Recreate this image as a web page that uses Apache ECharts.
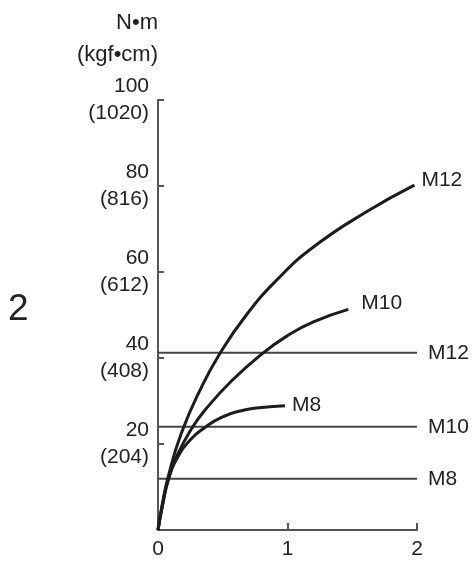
<!DOCTYPE html>
<html>
<head>
<meta charset="utf-8">
<script src="https://cdn.jsdelivr.net/npm/echarts@6/dist/echarts.min.js"></script>
<style>
  html, body { margin: 0; padding: 0; background: #fff; }
  #main { width: 474px; height: 565px; }
</style>
</head>
<body>
<div id="main"></div>
<script>
// tightening torque curves
var m12Curve = [[0, 0], [0.03, 5.5], [0.08, 12.5], [0.18, 22.5], [0.337, 33.3], [0.479, 41.1], [0.672, 49.6], [0.916, 58.1], [1.2, 65.8], [1.61, 74.0], [1.98, 80.2]]
var m10Curve = [[0, 0], [0.03, 5], [0.08, 11.8], [0.15, 17.5], [0.26, 23.6], [0.363, 27.9], [0.569, 34.7], [0.8, 40.9], [1.0, 45.2], [1.2, 48.4], [1.47, 51.3]]
var m8Curve = [[0, 0], [0.03, 5], [0.08, 11.8], [0.15, 16.8], [0.25, 21], [0.36, 23.8], [0.49, 26.2], [0.65, 27.8], [0.8, 28.5], [0.98, 28.9]]

// horizontal limit lines
var limitNames = ['M12', 'M10', 'M8']
var limitValues = [41.2, 24.0, 11.9]

var yTickLabels = { 20: '20\n(204)', 40: '40\n(408)', 60: '60\n(612)', 80: '80\n(816)', 100: '100\n(1020)' }
var xTickLabels = { 0: '0', 1: '1', 2: '2' }

var font = 'Liberation Sans, Arial, sans-serif'
var textColor = '#222'

var myChart = echarts.init(document.getElementById('main'))

var series = []
limitNames.forEach(function (name, i) {
  series.push({
    name: name + ' limit',
    type: 'line',
    symbol: 'none',
    silent: true,
    data: [[0, limitValues[i]], [2, limitValues[i]]],
    lineStyle: { color: '#444', width: 2 },
    endLabel: {
      show: true,
      formatter: name,
      distance: 11,
      color: textColor,
      fontSize: 21,
      fontFamily: font
    }
  })
})
// name, data, label distance, label y offset
var curves = [['M12', m12Curve, 7, -5], ['M10', m10Curve, 13, -6], ['M8', m8Curve, 7, -1]]
curves.forEach(function (c) {
  series.push({
    name: c[0],
    type: 'line',
    symbol: 'none',
    smooth: 0.5,
    silent: true,
    data: c[1],
    lineStyle: { color: '#1c1c1c', width: 3 },
    endLabel: {
      show: true,
      formatter: c[0],
      distance: c[2],
      offset: [0, c[3]],
      color: textColor,
      fontSize: 21,
      fontFamily: font
    }
  })
})

var option = {
  backgroundColor: '#fff',
  animation: false,
  grid: { left: 158, right: 57, top: 100, bottom: 35 },
  xAxis: {
    type: 'value',
    min: 0,
    max: 2,
    interval: 1,
    axisLine: { show: true, lineStyle: { color: '#555', width: 2 } },
    axisTick: { show: true, inside: true, length: 7, lineStyle: { color: '#555', width: 2 } },
    axisLabel: {
      margin: 9,
      color: textColor,
      fontSize: 21,
      fontFamily: font,
      formatter: function (v) { return xTickLabels[v] }
    },
    splitLine: { show: false }
  },
  yAxis: {
    type: 'value',
    min: 0,
    max: 100,
    interval: 20,
    name: 'N•m\n(kgf•cm)',
    nameLocation: 'end',
    nameGap: 29,
    nameTextStyle: {
      align: 'right',
      color: textColor,
      fontSize: 22,
      lineHeight: 32,
      fontFamily: font
    },
    axisLine: { show: true, lineStyle: { color: '#555', width: 2 } },
    axisTick: { show: true, inside: true, length: 6, lineStyle: { color: '#555', width: 2 } },
    axisLabel: {
      margin: 9,
      color: textColor,
      fontSize: 21,
      lineHeight: 27,
      fontFamily: font,
      formatter: function (v) { return yTickLabels[v] || '' }
    },
    splitLine: { show: false }
  },
  graphic: [
    {
      type: 'text',
      left: 8,
      top: 291,
      style: { text: '2', fontSize: 37, fontFamily: font, fill: textColor }
    }
  ],
  series: series
}

myChart.setOption(option)
</script>
</body>
</html>
